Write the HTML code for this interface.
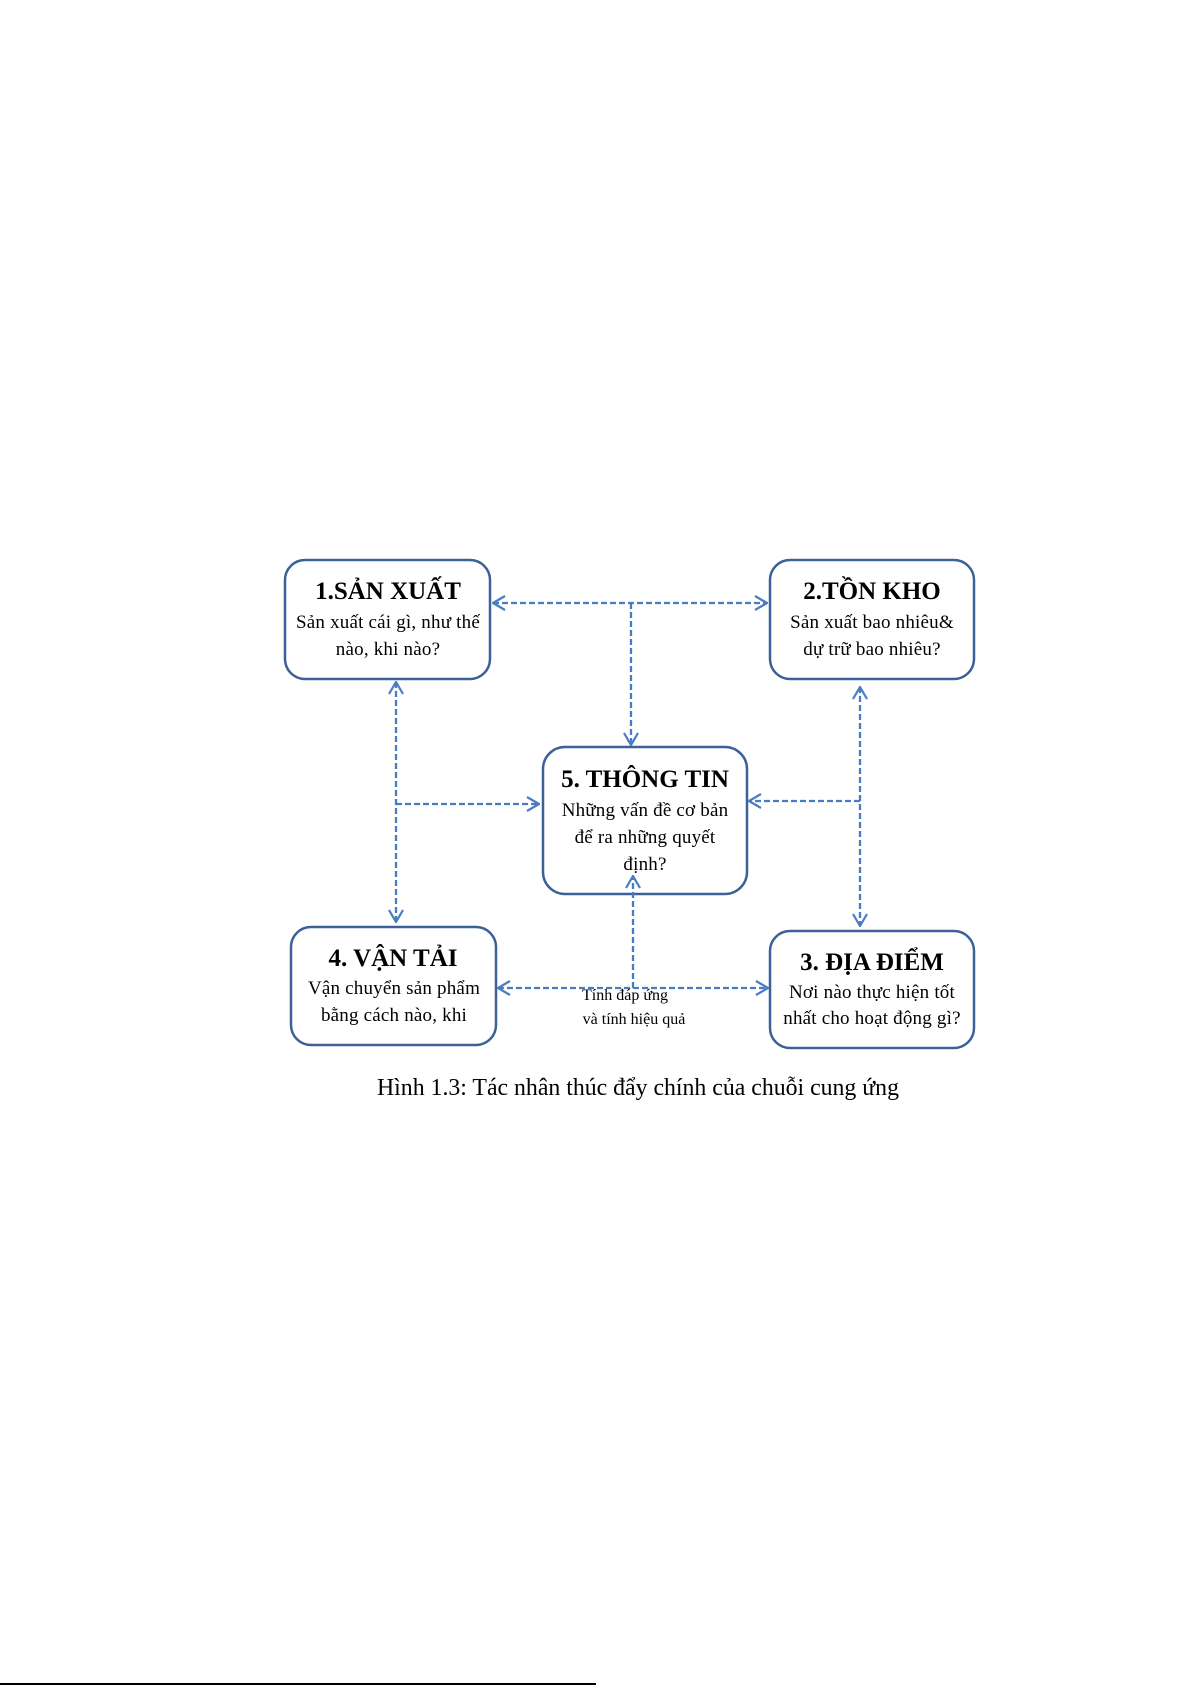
<!DOCTYPE html>
<html><head><meta charset="utf-8"><style>
html,body{margin:0;padding:0;background:#fff;}
svg{display:block;}
text{font-family:"Liberation Serif",serif;fill:#000;}
.t{font-size:25px;font-weight:bold;}
.b{font-size:19px;letter-spacing:0.2px;}
</style></head><body>
<svg width="1191" height="1685" viewBox="0 0 1191 1685" xmlns="http://www.w3.org/2000/svg">
<defs>
<marker id="a" viewBox="0 0 14 16" refX="13" refY="8" markerWidth="14" markerHeight="16" markerUnits="userSpaceOnUse" orient="auto-start-reverse">
<path d="M1,1 L13,8 L1,15" fill="none" stroke="#4a7cc4" stroke-width="2.2"/>
</marker>
</defs>
<g fill="#fff" stroke="#3c6198" stroke-width="2.5">
<rect x="285" y="560" width="205" height="119" rx="20"/>
<rect x="770" y="560" width="204" height="119" rx="20"/>
<rect x="543" y="747" width="204" height="147" rx="22"/>
<rect x="291" y="927" width="205" height="118" rx="20"/>
<rect x="770" y="931" width="204" height="117" rx="20"/>
</g>
<g fill="none" stroke="#4a7cc4" stroke-width="2.3" stroke-dasharray="6,3">
<line x1="493" y1="603" x2="767" y2="603" marker-start="url(#a)" marker-end="url(#a)"/>
<line x1="631" y1="603" x2="631" y2="745" marker-end="url(#a)"/>
<line x1="396" y1="682" x2="396" y2="922" marker-start="url(#a)" marker-end="url(#a)"/>
<line x1="396" y1="804" x2="539" y2="804" marker-end="url(#a)"/>
<line x1="860" y1="687" x2="860" y2="926" marker-start="url(#a)" marker-end="url(#a)"/>
<line x1="860" y1="801" x2="749" y2="801" marker-end="url(#a)"/>
<line x1="498" y1="988" x2="768" y2="988" marker-start="url(#a)" marker-end="url(#a)"/>
<line x1="633" y1="988" x2="633" y2="876" marker-end="url(#a)"/>
</g>
<g text-anchor="middle">
<text class="t" x="388" y="599">1.SẢN XUẤT</text>
<text class="b" x="388" y="628">Sản xuất cái gì, như thế</text>
<text class="b" x="388" y="655">nào, khi nào?</text>
<text class="t" x="872" y="599">2.TỒN KHO</text>
<text class="b" x="872" y="628">Sản xuất bao nhiêu&amp;</text>
<text class="b" x="872" y="655">dự trữ bao nhiêu?</text>
<text class="t" x="645" y="787">5. THÔNG TIN</text>
<text class="b" x="645" y="816">Những vấn đề cơ bản</text>
<text class="b" x="645" y="843">để ra những quyết</text>
<text class="b" x="645" y="870">định?</text>
<text class="t" x="393" y="966">4. VẬN TẢI</text>
<text class="b" x="394" y="994">Vận chuyển sản phẩm</text>
<text class="b" x="394" y="1021">bằng cách nào, khi</text>
<text class="t" x="872" y="970">3. ĐỊA ĐIỂM</text>
<text class="b" x="872" y="998">Nơi nào thực hiện tốt</text>
<text class="b" x="872" y="1024">nhất cho hoạt động gì?</text>
<text x="625" y="1000" style="font-size:16px">Tính đáp ứng</text>
<text x="634" y="1024" style="font-size:16px">và tính hiệu quả</text>
<text x="638" y="1095" style="font-size:23.8px">Hình 1.3: Tác nhân thúc đẩy chính của chuỗi cung ứng</text>
</g>
<rect x="0" y="1683" width="596" height="2" fill="#000"/>
</svg>
</body></html>
